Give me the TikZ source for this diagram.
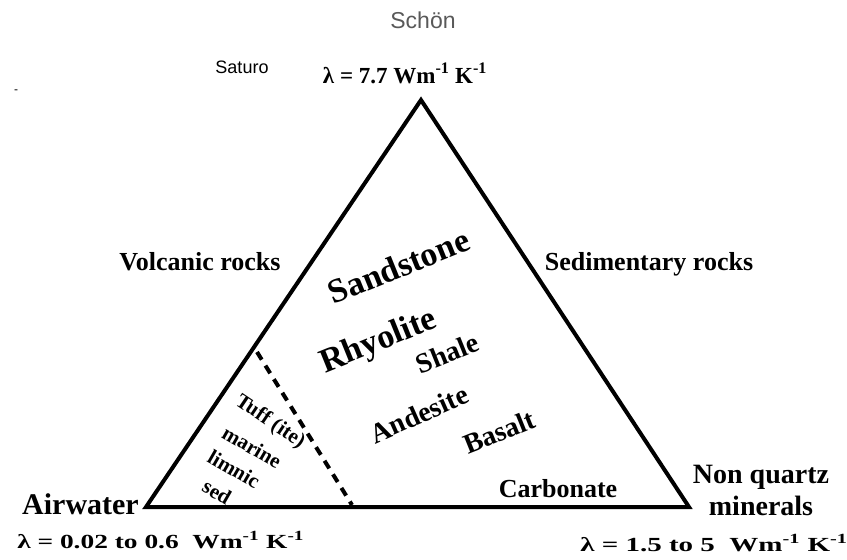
\documentclass[tikz,border=0pt]{standalone}
\usepackage{fontspec}
\setmainfont{Liberation Serif}
\newfontfamily\sansf{Liberation Sans}
\begin{document}
\begin{tikzpicture}[x=1pt,y=-1pt,
  lbl/.style={inner sep=0pt, font=\bfseries\fontsize{26}{28}\selectfont},
  big/.style={inner sep=0pt, font=\bfseries\fontsize{34}{36}\selectfont},
  mid/.style={inner sep=0pt, font=\bfseries\fontsize{28}{30}\selectfont},
  small/.style={inner sep=0pt, font=\bfseries\fontsize{21}{23}\selectfont},
  lam/.style={inner sep=0pt, font=\bfseries\fontsize{23}{25}\selectfont},
  lamlow/.style={inner sep=0pt, font=\bfseries\fontsize{20}{22}\selectfont},
  tri/.style={line width=4pt, line join=miter},
  dashline/.style={line width=4pt, dash pattern=on 9pt off 7pt}]
\useasboundingbox (0,0) rectangle (847,560);
% triangle
\coordinate (A) at (421,100);
\coordinate (B) at (146,507);
\coordinate (C) at (689,507);
\draw[tri] (A) -- (B) -- (C) -- cycle;
\coordinate (D1) at (257,352);
\coordinate (D2) at (352,505);
\draw[dashline] (D1) -- (D2);
% header texts
\node[inner sep=0pt, anchor=base, text=black!65, font=\sansf\fontsize{23}{25}\selectfont] (schon) at (423,28) {Schön};
\node[inner sep=0pt, anchor=base, font=\sansf\fontsize{18}{20}\selectfont] (saturo) at (242,73) {Saturo};
\node[inner sep=0pt, font=\sansf\fontsize{12}{12}\selectfont] (dash) at (16,92) {-};
\node[lam, anchor=base] (ltop) at (405,83) {λ = 7.7 Wm\textsuperscript{-1} K\textsuperscript{-1}};
% side labels
\node[lbl, anchor=base] (volc) at (200,270) {Volcanic rocks};
\node[lbl, anchor=base] (sedi) at (649,270) {Sedimentary rocks};
% inside
\node[big, anchor=base, rotate=22] (sand) at (403,277) {Sandstone};
\node[big, anchor=base, rotate=22] (rhyo) at (382,350) {Rhyolite};
\node[mid, anchor=base, rotate=22] (shale) at (451,362) {Shale};
\node[mid, anchor=base, rotate=24] (ande) at (423,423) {Andesite};
\node[mid, anchor=base, rotate=22] (basa) at (503,441) {Basalt};
\node[lbl, anchor=base] (carb) at (558,497) {Carbonate};
\node[small, rotate=-34] (tuff) at (270,422) {Tuff (ite)};
\node[small, rotate=-30] (mari) at (252,447) {marine};
\node[small, rotate=-30] (limn) at (234,469) {limnic};
\node[small, rotate=-30] (sed) at (217,492) {sed};
% corners
\node[inner sep=0pt, font=\bfseries\fontsize{30}{32}\selectfont, anchor=base west] (air) at (22,514) {Airwater};
\node[mid, anchor=base] (nonq) at (761,483) {Non quartz};
\node[mid, anchor=base] (mine) at (761,515) {minerals};
\node[lamlow, anchor=base west, xscale=1.37] (lleft) at (17,548) {λ = 0.02 to 0.6 \ Wm\textsuperscript{-1} K\textsuperscript{-1}};
\node[lamlow, anchor=base west, xscale=1.45] (lright) at (580,551) {λ = 1.5 to 5 \ Wm\textsuperscript{-1} K\textsuperscript{-1}};
\end{tikzpicture}
\end{document}
